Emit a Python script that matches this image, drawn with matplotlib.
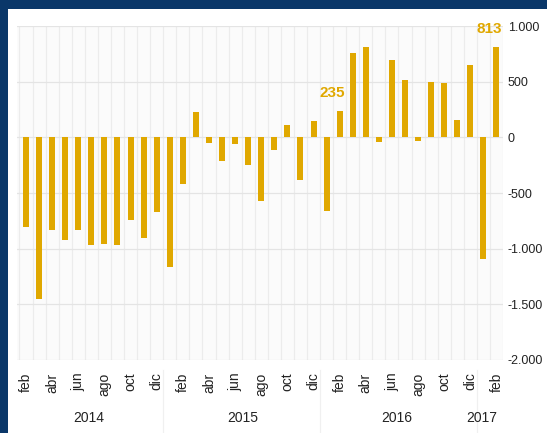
import matplotlib
matplotlib.use("Agg")
import matplotlib.pyplot as plt
from matplotlib.patches import Rectangle
from matplotlib.ticker import FuncFormatter

months = ['feb', 'mar', 'abr', 'may', 'jun', 'jul', 'ago', 'sep', 'oct', 'nov', 'dic', 'ene',
          'feb', 'mar', 'abr', 'may', 'jun', 'jul', 'ago', 'sep', 'oct', 'nov', 'dic', 'ene',
          'feb', 'mar', 'abr', 'may', 'jun', 'jul', 'ago', 'sep', 'oct', 'nov', 'dic', 'ene',
          'feb']
values = [-807, -1452, -828, -921, -834, -969, -954, -963, -744, -900, -669, -1167,
          -423, 228, -54, -216, -63, -252, -570, -114, 114, -387, 147, -660,
          235, 753, 815, -42, 696, 519, -30, 495, 489, 153, 648, -1089,
          813]
years = ['2014', '2015', '2016', '2017']
year_pos = [4.8, 16.6, 28.4, 34.9]
labelled = {24: '235', 36: '813'}

gold = '#e0a800'
frame = '#0a3769'

plt.rcParams['font.family'] = ['Liberation Sans', 'DejaVu Sans']

fig = plt.figure(figsize=(5.47, 4.33), dpi=100)
fig.patch.set_facecolor(frame)
fig.patches.append(Rectangle((8 / 547, 0), 1, 1 - 9 / 433, transform=fig.transFigure,
                             facecolor='white', edgecolor='none', zorder=-10))

ax = fig.add_axes([17 / 547, 1 - 360 / 433, 486 / 547, 334 / 433])
ax.set_zorder(5)
ax.set_facecolor('#fbfbfb')
x = list(range(len(values)))
ax.bar(x, values, width=0.46, color=gold, zorder=3)

ax.set_xlim(-0.69, 36.5)
ax.set_ylim(-2000, 1000)
ax.set_yticks(range(-2000, 1001, 500))
ax.yaxis.set_major_formatter(FuncFormatter(lambda v, p: f'{int(v):,}'.replace(',', '.')))
ax.yaxis.tick_right()
ax.tick_params(axis='y', length=0, pad=3.5, labelsize=9, labelcolor='#222222')
for t in ax.get_yticklabels():
    t.set_horizontalalignment('left')

ax.set_xticks(x[::2])
ax.set_xticklabels(months[::2], rotation=90, fontsize=10, color='#222222')
ax.tick_params(axis='x', length=0, pad=9)

for s in ax.spines.values():
    s.set_visible(False)
ax.grid(axis='y', color='#e4e4e4', linewidth=0.9, zorder=0)
for i in range(len(values) + 1):
    ax.axvline(i - 0.5, color='#ececec', linewidth=0.9, zorder=0)

# year labels and separators
for yr, pos in zip(years, year_pos):
    ax.text(pos, -0.175, yr, transform=ax.get_xaxis_transform(),
            ha='center', va='center', fontsize=10, color='#222222')
for b in [10.5, 22.5, 34.5]:
    ax.plot([b, b], [-0.03, -0.22], transform=ax.get_xaxis_transform(), color='#f0f0f0',
            linewidth=0.9, clip_on=False)

for i, txt in labelled.items():
    ax.annotate(txt, (i + 0.4, values[i]), xytext=(0, 8), textcoords='offset points',
                ha='right', va='bottom', fontsize=11, fontweight='bold', color=gold)

fig.savefig('out.png', dpi=100, facecolor=fig.get_facecolor())
